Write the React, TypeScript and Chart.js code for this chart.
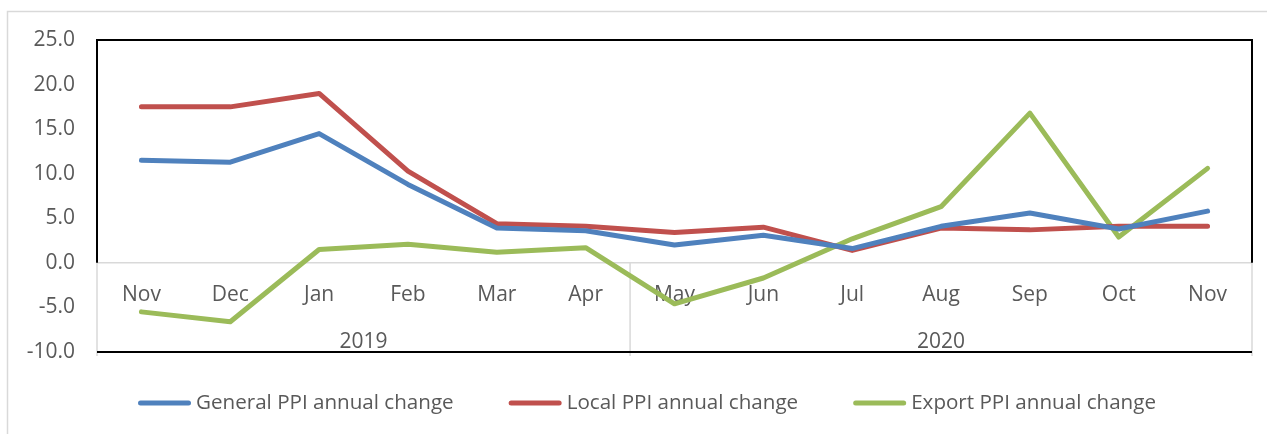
import React, { useEffect, useRef } from 'react';
import { Chart, registerables } from 'chart.js';

Chart.register(...registerables);

const months = ['Nov', 'Dec', 'Jan', 'Feb', 'Mar', 'Apr', 'May', 'Jun', 'Jul', 'Aug', 'Sep', 'Oct', 'Nov'];
const years = ['2019', '2020'];
const yearCenters = [2.5, 9];
const yearBoundaries = [-0.5, 5.5, 12.5];

const generalPPI = [11.5, 11.3, 14.5, 8.8, 3.9, 3.6, 2.0, 3.1, 1.6, 4.1, 5.6, 3.8, 5.8];
const localPPI = [17.5, 17.5, 19.0, 10.3, 4.4, 4.1, 3.4, 4.0, 1.4, 3.9, 3.7, 4.1, 4.1];
const exportPPI = [-5.5, -6.6, 1.5, 2.1, 1.2, 1.7, -4.6, -1.7, 2.7, 6.3, 16.8, 2.9, 10.6];

const seriesNames = ['General PPI annual change', 'Local PPI annual change', 'Export PPI annual change'];
const seriesColors = ['#4F81BD', '#C0504D', '#9BBB59'];

const yMin = -10;
const yMax = 25;
const yStep = 5;

const FONT = '"Open Sans", "Noto Sans", sans-serif';
const TEXT = '#595959';
const LIGHT = '#d9d9d9';

const decorPlugin = {
  id: 'decor',
  beforeDraw(chart: any) {
    const ctx = chart.ctx;
    ctx.save();
    ctx.fillStyle = '#ffffff';
    ctx.fillRect(0, 0, chart.width, chart.height);
    ctx.strokeStyle = LIGHT;
    ctx.lineWidth = 1.5;
    ctx.strokeRect(7.5, 11.5, chart.width + 100, chart.height + 100);
    ctx.restore();
  },
  beforeDatasetsDraw(chart: any) {
    const { ctx, chartArea: a, scales } = chart;
    const y0 = scales.y.getPixelForValue(0);
    const x2 = scales.x2;
    ctx.save();
    ctx.strokeStyle = LIGHT;
    ctx.lineWidth = 1.5;
    yearBoundaries.forEach((v) => {
      const px = x2.getPixelForValue(v);
      ctx.beginPath();
      ctx.moveTo(px, y0);
      ctx.lineTo(px, a.bottom + 4);
      ctx.stroke();
    });
    ctx.strokeStyle = '#000000';
    ctx.lineWidth = 2;
    ctx.beginPath();
    ctx.moveTo(a.left, y0);
    ctx.lineTo(a.left, a.top);
    ctx.lineTo(a.right, a.top);
    ctx.lineTo(a.right, y0);
    ctx.stroke();
    ctx.beginPath();
    ctx.moveTo(a.left, a.bottom);
    ctx.lineTo(a.right, a.bottom);
    ctx.stroke();
    ctx.restore();
  },
  afterDraw(chart: any) {
    const ctx = chart.ctx;
    ctx.save();
    ctx.font = '20.6px ' + FONT;
    ctx.textBaseline = 'middle';
    ctx.textAlign = 'left';
    let x = 138;
    const y = 403;
    chart.data.datasets.forEach((ds: any) => {
      ctx.strokeStyle = ds.borderColor;
      ctx.lineWidth = 5;
      ctx.lineCap = 'round';
      ctx.beginPath();
      ctx.moveTo(x + 2.5, y);
      ctx.lineTo(x + 50.5, y);
      ctx.stroke();
      x += 58;
      ctx.fillStyle = TEXT;
      ctx.fillText(ds.label, x, y);
      x += ctx.measureText(ds.label).width + 55;
    });
    ctx.restore();
  },
};

const zeroFit = (s: any) => {
  s.height = 0;
  s.paddingLeft = 0;
  s.paddingRight = 0;
};

export default function App() {
  const canvasRef = useRef<HTMLCanvasElement | null>(null);

  useEffect(() => {
    if (!canvasRef.current) return;
    const seriesData = [generalPPI, localPPI, exportPPI];
    const chart = new Chart(canvasRef.current, {
      type: 'line',
      data: {
        labels: months,
        datasets: seriesData.map((d, i) => ({
          label: seriesNames[i],
          data: d,
          borderColor: seriesColors[i],
          backgroundColor: seriesColors[i],
          borderWidth: 5,
          borderCapStyle: 'round',
          borderJoinStyle: 'round',
          pointRadius: 0,
          tension: 0,
          xAxisID: 'x',
          yAxisID: 'y',
        })),
      },
      options: {
        responsive: false,
        animation: false,
        devicePixelRatio: 1,
        layout: { padding: { left: 0, right: 15, top: 40, bottom: 82 } },
        plugins: { legend: { display: false }, tooltip: { enabled: false } },
        scales: {
          x: {
            type: 'category',
            position: 'bottom',
            offset: true,
            grid: { display: false, drawTicks: false },
            border: { display: false },
            ticks: {
              color: TEXT,
              font: { family: FONT, size: 21 },
              mirror: true,
              padding: 44,
              maxRotation: 0,
              autoSkip: false,
            },
            afterFit: zeroFit,
          },
          x2: {
            type: 'linear',
            position: 'bottom',
            min: -0.5,
            max: 12.5,
            grid: { display: false, drawTicks: false },
            border: { display: false },
            afterBuildTicks: (s: any) => {
              s.ticks = yearCenters.map((v) => ({ value: v }));
            },
            ticks: {
              color: TEXT,
              font: { family: FONT, size: 21 },
              mirror: true,
              padding: -3,
              maxRotation: 0,
              autoSkip: false,
              callback: (_v: any, i: number) => years[i],
            },
            afterFit: zeroFit,
          },
          y: {
            type: 'linear',
            position: 'left',
            min: yMin,
            max: yMax,
            ticks: {
              stepSize: yStep,
              color: TEXT,
              font: { family: FONT, size: 21 },
              padding: 22,
              callback: (v: any) => Number(v).toFixed(1),
            },
            grid: {
              drawTicks: false,
              lineWidth: 1.5,
              color: (c: any) => (c.tick && c.tick.value === 0 ? LIGHT : 'rgba(0,0,0,0)'),
            },
            border: { display: false },
            afterFit: (s: any) => {
              s.width = 97;
            },
          },
        },
      },
      plugins: [decorPlugin],
    } as any);
    return () => chart.destroy();
  }, []);

  return (
    <div style={{ position: 'fixed', left: 0, top: 0, width: 1267, height: 434 }}>
      <canvas ref={canvasRef} width={1267} height={434} />
    </div>
  );
}
